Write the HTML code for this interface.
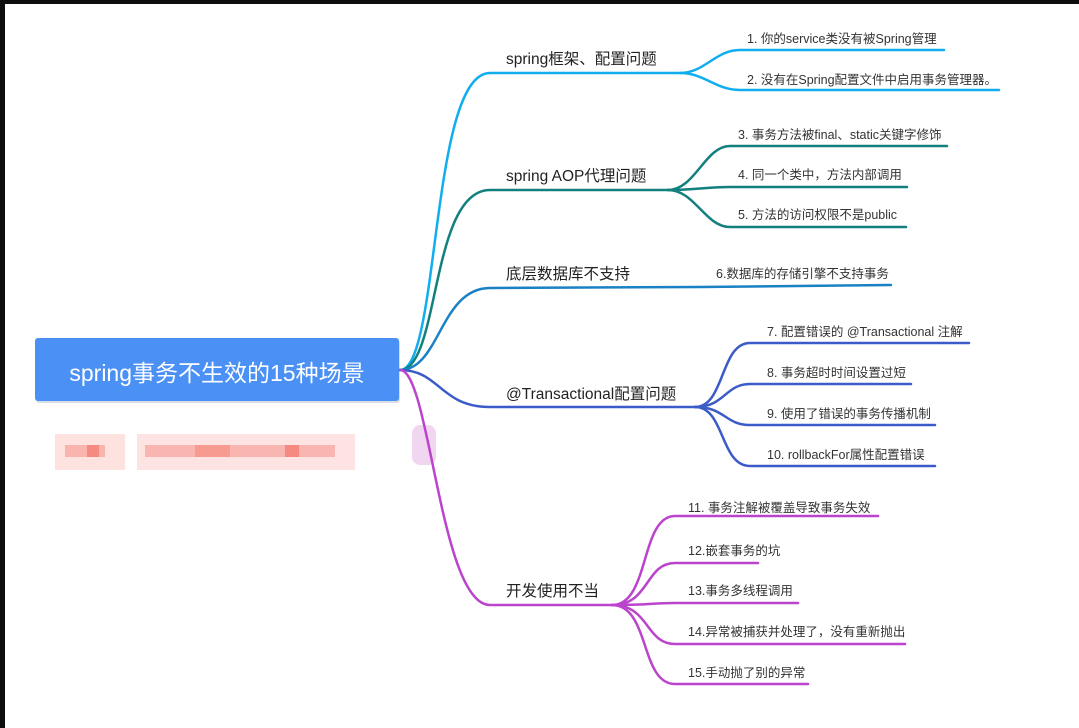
<!DOCTYPE html>
<html><head><meta charset="utf-8"><style>
body{margin:0;width:1079px;height:728px;overflow:hidden;background:#0e0e0e;font-family:"Liberation Sans","Noto Sans CJK SC",sans-serif}
#c{position:absolute;left:5px;top:4px;width:1074px;height:724px;background:#fff}
svg{position:absolute;left:0;top:0}
.t{font-size:12.5px;fill:#333}
.b{font-size:15.5px;fill:#222}
</style></head><body>
<div id="c"></div>
<svg width="1079" height="728" xmlns="http://www.w3.org/2000/svg" fill="none" stroke-width="2.5" stroke-linecap="round">
<rect x="36" y="340" width="364" height="63" rx="3" fill="#d8dde6" stroke="none"/>
<rect x="35" y="338" width="364" height="63" rx="3" fill="#4a90f5" stroke="none"/>
<text x="217" y="381" font-size="23" fill="#fff" stroke="none" text-anchor="middle" font-family="Liberation Sans, Noto Sans CJK SC, sans-serif">spring事务不生效的15种场景</text>
<g stroke="none">
<rect x="55" y="434" width="70" height="36" fill="#fde2e0"/>
<rect x="65" y="445" width="40" height="12" fill="#f9b4ae"/>
<rect x="87" y="445" width="12" height="12" fill="#f58a80"/>
<rect x="137" y="434" width="218" height="36" fill="#fde4e2"/>
<rect x="145" y="445" width="190" height="12" fill="#f9b6b0"/>
<rect x="195" y="445" width="35" height="12" fill="#f79a90"/>
<rect x="285" y="445" width="14" height="12" fill="#f58a80"/>
<rect x="412" y="425" width="24" height="40" rx="8" fill="#f1d6f1"/>
</g>
<g stroke="#10aeef">
<path d="M400,370 C440,370 430,73 490,73 L680,73"/>
<path d="M680,73 C705,73 715,50 740,50 L944,50"/>
<path d="M680,73 C705,73 715,90 740,90 L999,90"/>
</g>
<g stroke="#12807f">
<path d="M400,370 C440,370 430,190 490,190 L668,190"/>
<path d="M668,190 C695,190 705,146 730,146 L947,146"/>
<path d="M668,190 C695,190 705,187 730,187 L907,187"/>
<path d="M668,190 C695,190 705,227 730,227 L906,227"/>
</g>
<g stroke="#1a82c4">
<path d="M400,370 C440,370 440,288 490,288 L700,287 L891,285"/>
</g>
<g stroke="#3b5cc8">
<path d="M400,370 C440,370 440,407 490,407 L695,407"/>
<path d="M695,407 C725,407 720,343 750,343 L969,343"/>
<path d="M695,407 C725,407 725,384 750,384 L911,384"/>
<path d="M695,407 C725,407 725,425 750,425 L935,425"/>
<path d="M695,407 C725,407 720,466 750,466 L935,466"/>
</g>
<g stroke="#bb44cc">
<path d="M400,370 C430,370 440,605 490,605 L612,605"/>
<path d="M612,605 C650,605 640,516 675,516 L878,516"/>
<path d="M612,605 C650,605 645,563 675,563 L758,563"/>
<path d="M612,605 C650,605 650,603 675,603 L798,603"/>
<path d="M612,605 C650,605 645,644 675,644 L905,644"/>
<path d="M612,605 C650,605 640,684 675,684 L808,684"/>
</g>
<g stroke="none">
<text class="b" x="506" y="64">spring框架、配置问题</text>
<text class="b" x="506" y="181">spring AOP代理问题</text>
<text class="b" x="506" y="279">底层数据库不支持</text>
<text class="b" x="506" y="399">@Transactional配置问题</text>
<text class="b" x="506" y="596">开发使用不当</text>
<text class="t" x="747" y="43">1. 你的service类没有被Spring管理</text>
<text class="t" x="747" y="84">2. 没有在Spring配置文件中启用事务管理器。</text>
<text class="t" x="738" y="139">3. 事务方法被final、static关键字修饰</text>
<text class="t" x="738" y="179">4. 同一个类中，方法内部调用</text>
<text class="t" x="738" y="219">5. 方法的访问权限不是public</text>
<text class="t" x="716" y="278">6.数据库的存储引擎不支持事务</text>
<text class="t" x="767" y="336">7. 配置错误的 @Transactional 注解</text>
<text class="t" x="767" y="377">8. 事务超时时间设置过短</text>
<text class="t" x="767" y="418">9. 使用了错误的事务传播机制</text>
<text class="t" x="767" y="459">10. rollbackFor属性配置错误</text>
<text class="t" x="688" y="512">11. 事务注解被覆盖导致事务失效</text>
<text class="t" x="688" y="555">12.嵌套事务的坑</text>
<text class="t" x="688" y="595">13.事务多线程调用</text>
<text class="t" x="688" y="636">14.异常被捕获并处理了，没有重新抛出</text>
<text class="t" x="688" y="677">15.手动抛了别的异常</text>
</g>
</svg>
</body></html>
